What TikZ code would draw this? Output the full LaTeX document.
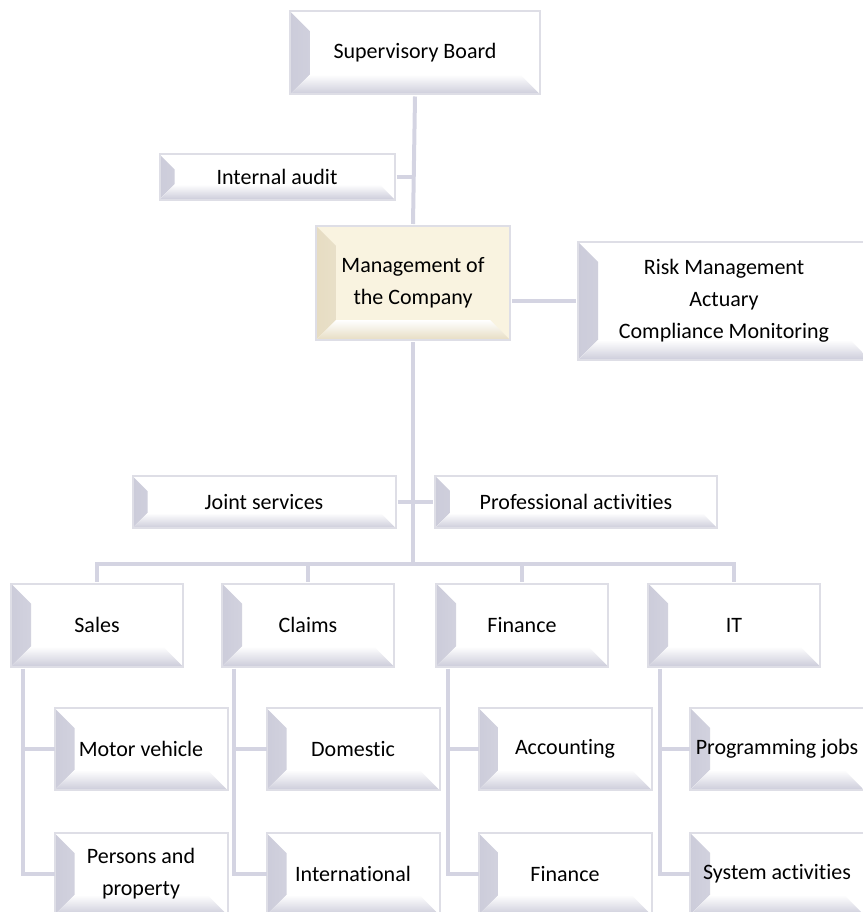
\documentclass[tikz,border=0pt]{standalone}
\usepackage{fontspec}
\setmainfont{Carlito}[Ligatures=NoCommon]

\definecolor{linka}{RGB}{212,212,226}
\definecolor{ramecek}{RGB}{222,222,230}
\definecolor{stin}{RGB}{204,204,218}
\definecolor{krem}{RGB}{249,243,224}
\definecolor{kremstin}{RGB}{230,220,194}

\tikzset{
  bev/.store in=\bevsize, bev=20pt,
  bevcol/.store in=\bevcol, bevcol=stin,
  bevel/.style={rectangle, draw=ramecek, line width=2pt, fill=white,
    align=center, inner sep=0pt, font=\fontsize{22}{32}\selectfont,
    path picture={
      % levy skos
      \fill[left color=\bevcol, right color=white]
        (path picture bounding box.north west) -- (path picture bounding box.south west)
        -- ([xshift=\bevsize, yshift=\bevsize]path picture bounding box.south west)
        -- ([xshift=\bevsize, yshift=-\bevsize]path picture bounding box.north west) -- cycle;
      % spodni skos
      \fill[top color=white, bottom color=\bevcol]
        (path picture bounding box.south west) -- (path picture bounding box.south east)
        -- ([xshift=-\bevsize, yshift=\bevsize]path picture bounding box.south east)
        -- ([xshift=\bevsize, yshift=\bevsize]path picture bounding box.south west) -- cycle;
    }},
  spoj/.style={draw=linka, line width=4pt},
}

\begin{document}
\begin{tikzpicture}[x=1pt, y=-1pt]
  \useasboundingbox (0,0) rectangle (862,912);

  % vedeni spolecnosti
  \node[bevel, minimum width=250pt, minimum height=83pt] (sup) at (415,53) {Supervisory Board};
  \node[bevel, bev=15pt, minimum width=235pt, minimum height=45pt] (audit) at (277,177) {Internal audit};
  \node[bevel, fill=krem, bevcol=kremstin, minimum width=194pt, minimum height=114pt] (mgmt) at (413,283) {Management of\\the Company};
  \node[bevel, minimum width=292pt, minimum height=118pt] (risk) at (724,301) {Risk Management\\Actuary\\Compliance Monitoring};

  \node[bevel, bev=15pt, minimum width=263pt, minimum height=52pt] (joint) at (264,502) {Joint services};
  \node[bevel, bev=15pt, minimum width=282pt, minimum height=52pt] (prof) at (576,502) {Professional activities};

  % useky
  \node[bevel, minimum width=172pt, minimum height=83pt] (sales) at (97,625) {Sales};
  \node[bevel, minimum width=172pt, minimum height=83pt] (claims) at (308,625) {Claims};
  \node[bevel, minimum width=172pt, minimum height=83pt] (finance) at (522,625) {Finance};
  \node[bevel, minimum width=172pt, minimum height=83pt] (it) at (734,625) {IT};

  \node[bevel, minimum width=173pt, minimum height=82pt] (motor) at (141,749) {Motor vehicle};
  \node[bevel, minimum width=173pt, minimum height=82pt] (persons) at (141,874) {Persons and\\property};
  \node[bevel, minimum width=173pt, minimum height=82pt] (domestic) at (353,749) {Domestic};
  \node[bevel, minimum width=173pt, minimum height=82pt] (intl) at (353,874) {International};
  \node[bevel, minimum width=173pt, minimum height=82pt] (acct) at (565,749) {Accounting};
  \node[bevel, minimum width=173pt, minimum height=82pt] (fin2) at (565,874) {Finance};
  \node[bevel, minimum width=174pt, minimum height=82pt] (prog) at (777,749) {Programming jobs};
  \node[bevel, minimum width=174pt, minimum height=82pt] (sys) at (777,874) {System activities};

  % spojnice
  \coordinate (bus) at (414,564);
  \draw[spoj] ([yshift=-1pt]sup.south) -- ([yshift=1pt]mgmt.north);
  \draw[spoj] ([xshift=1pt]audit.east) -- (audit.east -| sup.south);
  \draw[spoj] ([xshift=1pt]mgmt.east |- risk.west) -- ([xshift=-1pt]risk.west);
  \draw[spoj] ([yshift=-1pt]mgmt.south) -- (mgmt.south |- bus);
  \draw[spoj] ([xshift=1pt]joint.east) -- ([xshift=-1pt]prof.west);
  \draw[spoj] ([yshift=1pt]sales.north) -- (sales.north |- bus) -- (it.north |- bus) -- ([yshift=1pt]it.north);
  \draw[spoj] (claims.north |- bus) -- ([yshift=1pt]claims.north);
  \draw[spoj] (finance.north |- bus) -- ([yshift=1pt]finance.north);

  \draw[spoj] ([xshift=13pt, yshift=-1pt]sales.south west) |- ([xshift=1pt]persons.west);
  \draw[spoj] ([xshift=13pt]sales.south west |- motor.west) -- ([xshift=1pt]motor.west);
  \draw[spoj] ([xshift=13pt, yshift=-1pt]claims.south west) |- ([xshift=1pt]intl.west);
  \draw[spoj] ([xshift=13pt]claims.south west |- domestic.west) -- ([xshift=1pt]domestic.west);
  \draw[spoj] ([xshift=13pt, yshift=-1pt]finance.south west) |- ([xshift=1pt]fin2.west);
  \draw[spoj] ([xshift=13pt]finance.south west |- acct.west) -- ([xshift=1pt]acct.west);
  \draw[spoj] ([xshift=13pt, yshift=-1pt]it.south west) |- ([xshift=1pt]sys.west);
  \draw[spoj] ([xshift=13pt]it.south west |- prog.west) -- ([xshift=1pt]prog.west);
\end{tikzpicture}
\end{document}
